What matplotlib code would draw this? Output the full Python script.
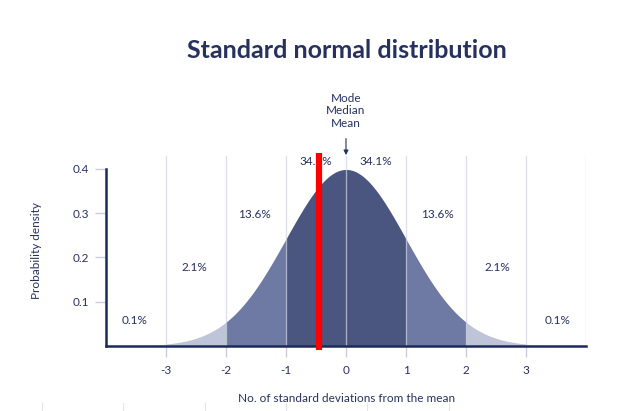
import matplotlib
matplotlib.use("Agg")
import matplotlib.pyplot as plt
import numpy as np

plt.rcParams["font.family"] = ["Lato", "DejaVu Sans"]
plt.rcParams["axes.unicode_minus"] = False

NAVY = "#27315e"

# band edges (standard deviations) and their fill colours
band_edges = [-4, -3, -2, -1, 0, 1, 2, 3, 4]
band_colors = ["#e6e8ef", "#bfc5d9", "#6e7aa3", "#4a5680",
               "#4a5680", "#6e7aa3", "#bfc5d9", "#e6e8ef"]

# percentage labels: position (sd, density) and text
pct_x = [-3.52, -2.52, -1.52, -0.5, 0.5, 1.52, 2.52, 3.52]
pct_y = [0.058, 0.178, 0.298, 0.418, 0.418, 0.298, 0.178, 0.058]
pct_text = ["0.1%", "2.1%", "13.6%", "34.1%", "34.1%", "13.6%", "2.1%", "0.1%"]

x_ticks = [-3, -2, -1, 0, 1, 2, 3]
y_ticks = [0.1, 0.2, 0.3, 0.4]
grid_x = [-3, -2, -1, 0, 1, 2, 3, 4]
marker_x = -0.45

fig = plt.figure(figsize=(6.17, 4.11), dpi=100)
ax = fig.add_axes([106 / 617, 1 - 346 / 411, 480 / 617, 190.3 / 411])

x = np.linspace(-4, 4, 801)
pdf = np.exp(-x ** 2 / 2) / np.sqrt(2 * np.pi)

for lo, hi, col in zip(band_edges[:-1], band_edges[1:], band_colors):
    m = (x >= lo - 1e-9) & (x <= hi + 1e-9)
    ax.fill_between(x[m], 0, pdf[m], color=col, lw=0, zorder=1)

for gx in grid_x:
    ax.axvline(gx, color="#c9cedf", lw=1, alpha=0.6, zorder=2)

ax.set_xlim(-4, 4)
ax.set_ylim(0, 0.43)
ax.set_xticks(x_ticks)
ax.set_xticklabels([str(t) for t in x_ticks])
ax.set_yticks(y_ticks)
ax.set_yticklabels([f"{t:.1f}" for t in y_ticks])
ax.tick_params(axis="both", colors="#c9cedf", length=8, width=1,
               labelcolor=NAVY, labelsize=8.5)
ax.tick_params(axis="x", pad=6)
ax.tick_params(axis="y", pad=4)

for s in ["top", "right"]:
    ax.spines[s].set_visible(False)
for s in ["left", "bottom"]:
    ax.spines[s].set_color("#1e2a5a")
    ax.spines[s].set_linewidth(1.8)
    ax.spines[s].set_zorder(5)
ax.spines["left"].set_bounds(0, 0.4)

for px, py, t in zip(pct_x, pct_y, pct_text):
    ax.text(px, py, t, ha="center", va="center", fontsize=8.5, color=NAVY, zorder=4)

ax.annotate("", xy=(0, 0.425), xytext=(0, 0.475),
            arrowprops=dict(arrowstyle="-|>", color=NAVY, lw=0.8, mutation_scale=7),
            annotation_clip=False)
ax.text(0, 0.49, "Mode\nMedian\nMean", ha="center", va="bottom", fontsize=8.5,
        color=NAVY, linespacing=1.2)

ax.plot([marker_x, marker_x], [-0.009, 0.435], color="#ff0000", lw=4.5,
        solid_capstyle="butt", clip_on=False, zorder=6)

ax.set_ylabel("Probability density", fontsize=8.5, color=NAVY, labelpad=22)
fig.text(347 / 617, 1 - 398 / 411, "No. of standard deviations from the mean",
         ha="center", va="center", fontsize=8.5, color=NAVY)
fig.suptitle("Standard normal distribution", x=347 / 617, y=1 - 50 / 411,
             va="center", fontsize=18, fontweight="bold", color=NAVY)

# faint cut-off lines at the very bottom
for px in [42, 123, 205, 286, 367, 449]:
    fig.add_artist(plt.Line2D([px / 617, px / 617], [0, 8 / 411],
                              color="#e3e5ec", lw=0.8))

fig.savefig("out.png", dpi=100, facecolor="white")
